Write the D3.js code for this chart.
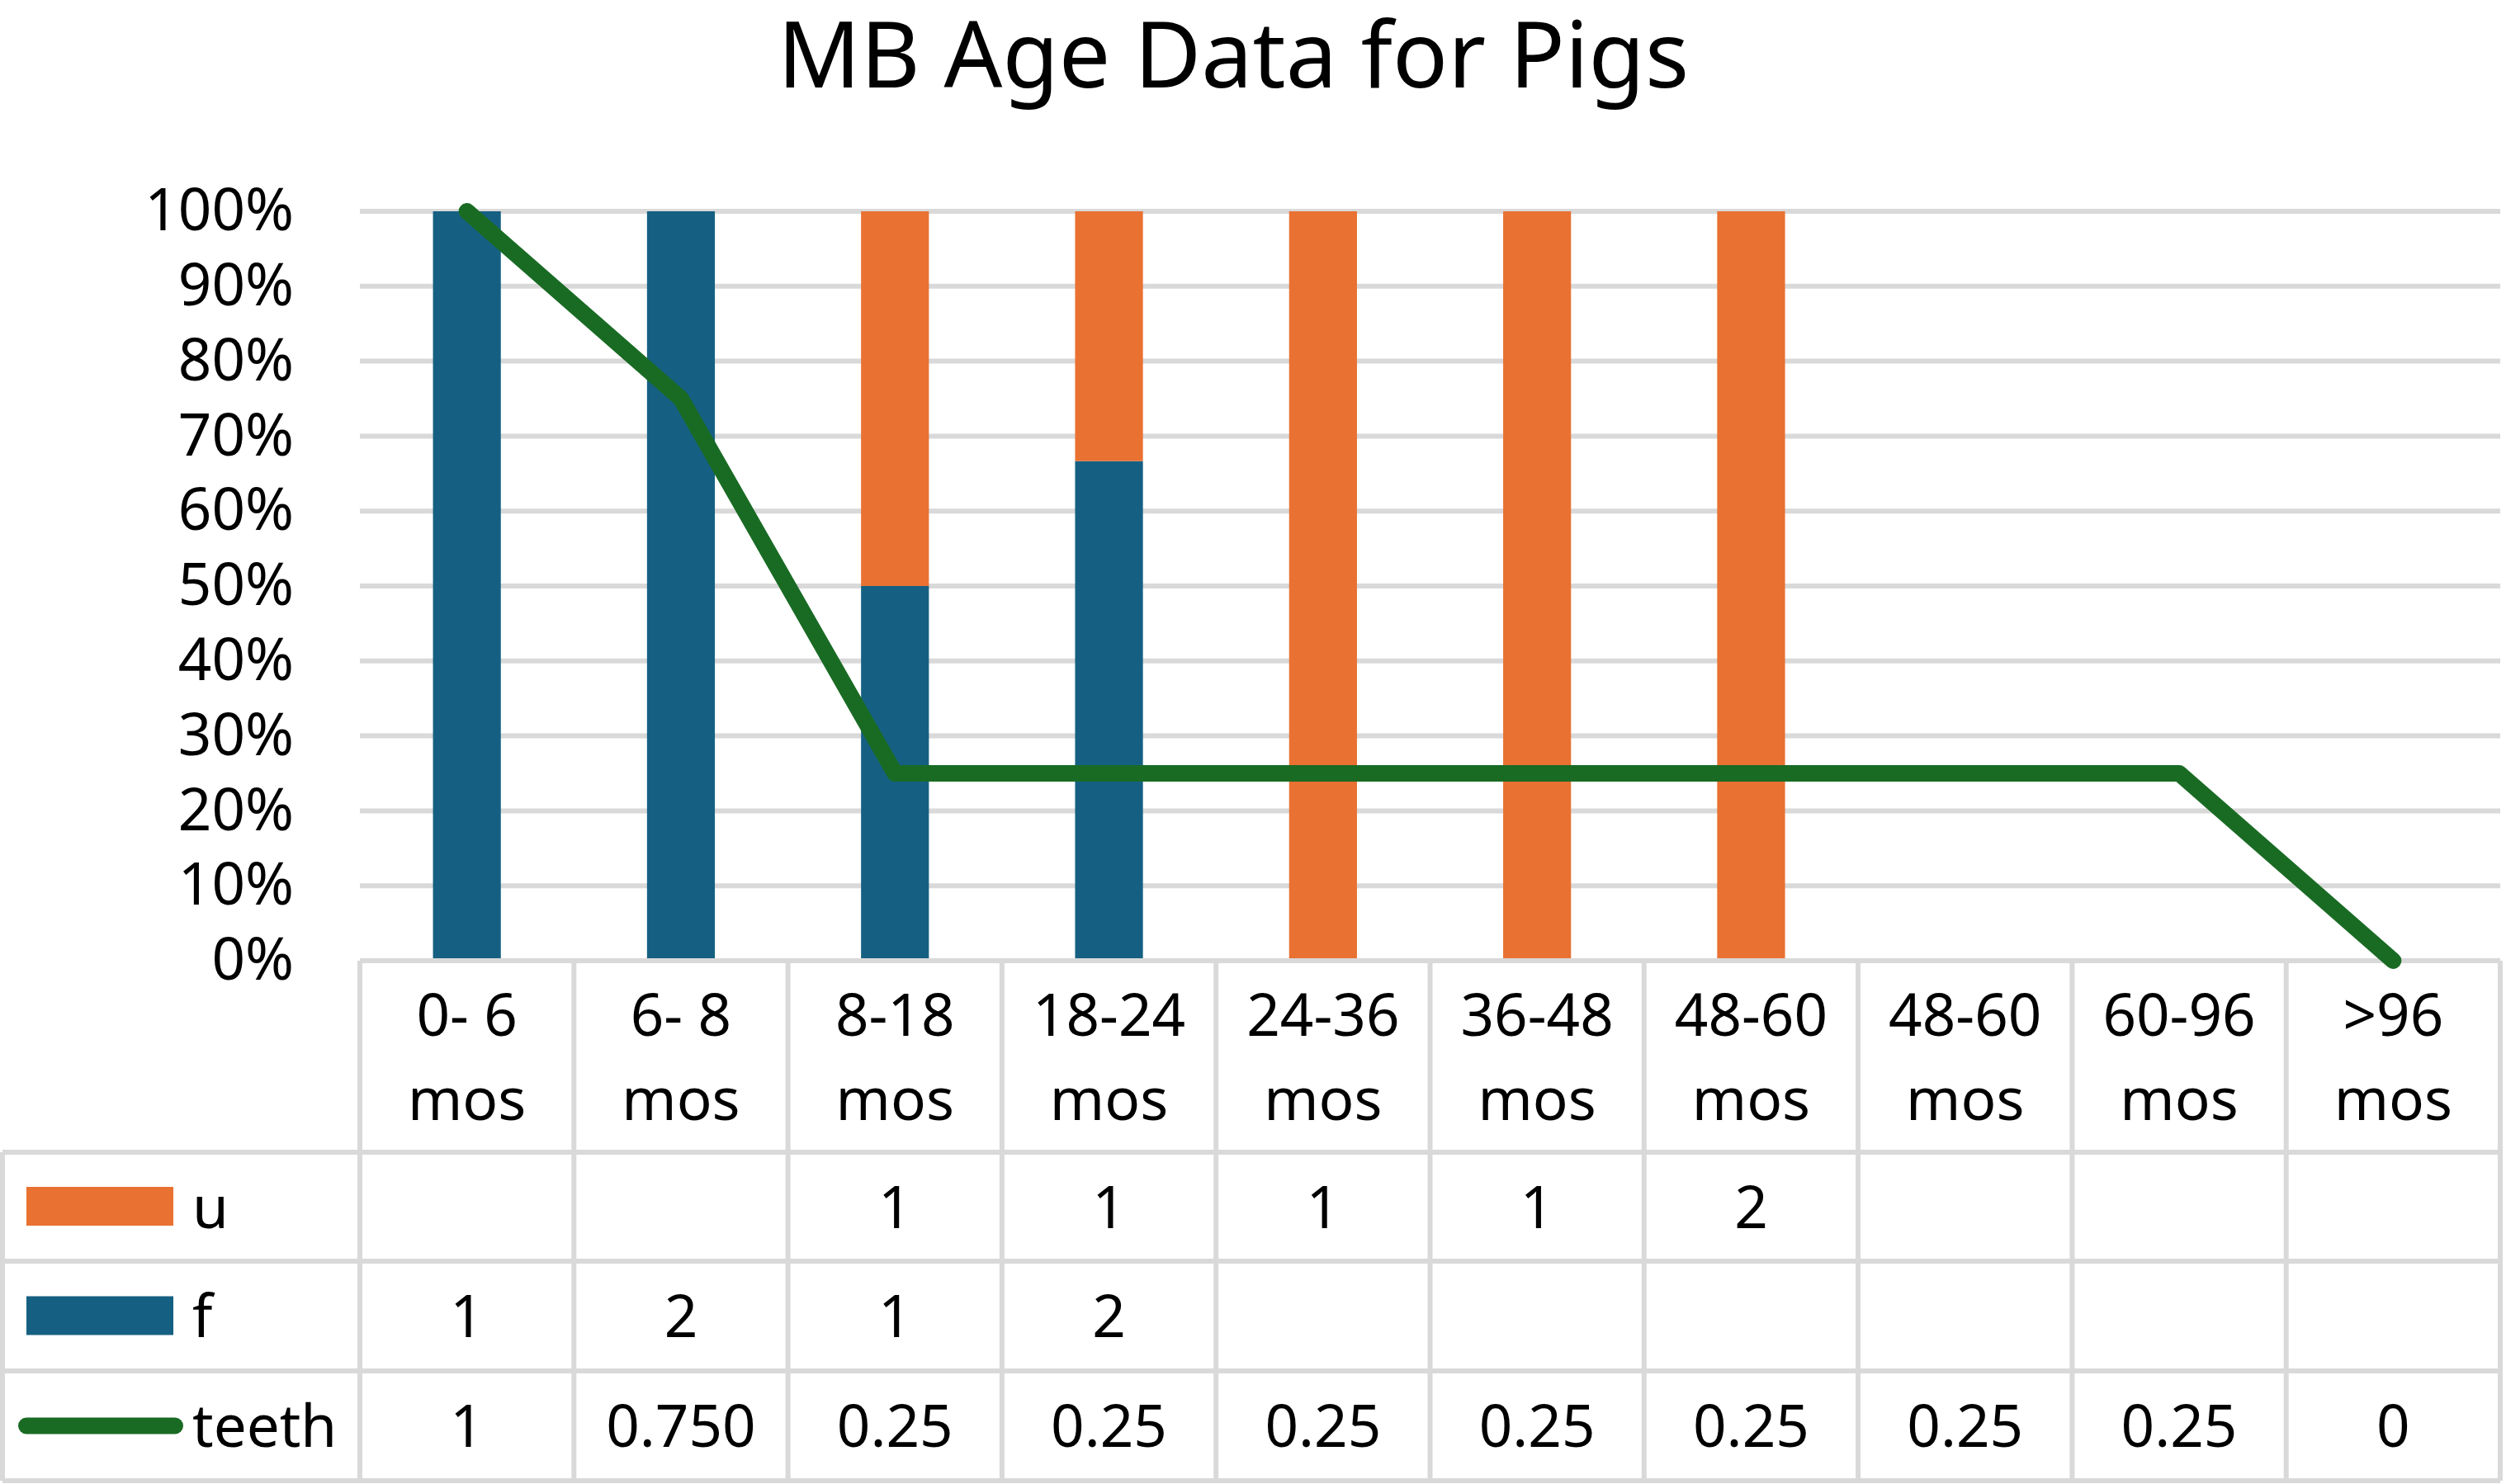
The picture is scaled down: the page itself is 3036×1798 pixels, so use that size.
<!DOCTYPE html>
<html>
<head>
<meta charset="utf-8">
<script src="https://cdn.jsdelivr.net/npm/d3@7"></script>
<style>
  body { margin: 0; background: #fff; }
  text { font-family: "Noto Sans", "Open Sans", sans-serif; fill: #000; }
</style>
</head>
<body>
<script>
// categories (age groups) - "48-60 mos" really is in there twice
var categories = ["0- 6 mos", "6- 8 mos", "8-18 mos", "18-24 mos", "24-36 mos",
                  "36-48 mos", "48-60 mos", "48-60 mos", "60-96 mos", ">96 mos"];
var uCounts = [null, null, 1, 1, 1, 1, 2, null, null, null];
var fCounts = [1, 2, 1, 2, null, null, null, null, null, null];
var teeth = [1, 0.75, 0.25, 0.25, 0.25, 0.25, 0.25, 0.25, 0.25, 0];
var teethText = ["1", "0.750", "0.25", "0.25", "0.25", "0.25", "0.25", "0.25", "0.25", "0"];
var yTicks = [0, 0.1, 0.2, 0.3, 0.4, 0.5, 0.6, 0.7, 0.8, 0.9, 1];

var width = 3036;
var height = 1798;
var colU = "#E97132", colF = "#156082", colTeeth = "#196B24", gridCol = "#d9d9d9";

var plot = {left: 436, right: 3029, top: 256, bottom: 1164};
var rowsY = [1164, 1396, 1528, 1661, 1794];   // table row borders
var fs = 71;

var svg = d3.select("body").append("svg")
    .attr("width", width)
    .attr("height", height);

var idx = d3.range(categories.length);
var xScale = d3.scaleBand()
    .domain(idx)
    .range([plot.left, plot.right])
    .padding(0);
var yScale = d3.scaleLinear()
    .domain([0, 1])
    .range([plot.bottom, plot.top]);

var barWidth = xScale.bandwidth() * 0.317;
function cx(i) { return xScale(i) + xScale.bandwidth() / 2; }

// title
svg.append("text")
    .text("MB Age Data for Pigs")
    .attr("x", 1494)
    .attr("y", 106)
    .attr("text-anchor", "middle")
    .style("font-size", "111px");

// gridlines
svg.append("g")
    .selectAll("line")
    .data(yTicks.filter(function(d){ return d > 0; }))
    .enter()
    .append("line")
    .attr("x1", plot.left)
    .attr("x2", plot.right)
    .attr("y1", function(d){ return yScale(d); })
    .attr("y2", function(d){ return yScale(d); })
    .attr("stroke", gridCol)
    .attr("stroke-width", 6);

// y axis labels
var yAxis = svg.append("g")
    .attr("transform", "translate(" + plot.left + ",0)")
    .call(d3.axisLeft(yScale).tickValues(yTicks).tickFormat(d3.format(".0%"))
        .tickSize(0).tickPadding(80));
yAxis.select(".domain").remove();
yAxis.selectAll("text")
    .style("font-size", fs + "px")
    .style("font-family", "'Noto Sans', sans-serif")
    .attr("fill", "#000");

// stacked 100% bars
var stackData = idx.map(function(i){
    var f = fCounts[i] || 0, u = uCounts[i] || 0, t = f + u;
    return {i: i, f: t ? f / t : 0, u: t ? u / t : 0};
});
var series = d3.stack().keys(["f", "u"])(stackData);
var colors = {f: colF, u: colU};

svg.append("g")
    .selectAll("g")
    .data(series)
    .enter()
    .append("g")
    .attr("fill", function(s){ return colors[s.key]; })
    .selectAll("rect")
    .data(function(s){ return s.filter(function(d){ return d[1] > d[0]; }); })
    .enter()
    .append("rect")
    .attr("x", function(d){ return cx(d.data.i) - barWidth / 2; })
    .attr("y", function(d){ return yScale(d[1]); })
    .attr("width", barWidth)
    .attr("height", function(d){ return yScale(d[0]) - yScale(d[1]); });

// data table grid
var grid = svg.append("g")
    .attr("stroke", gridCol)
    .attr("stroke-width", 6);
rowsY.forEach(function(y, k){
    grid.append("line")
        .attr("x1", k === 0 ? plot.left : 3)
        .attr("x2", plot.right)
        .attr("y1", y).attr("y2", y);
});
d3.range(categories.length + 1).forEach(function(k){
    var x = k < categories.length ? xScale(k) : plot.right;
    grid.append("line")
        .attr("x1", x).attr("x2", x)
        .attr("y1", rowsY[0]).attr("y2", rowsY[4]);
});
grid.append("line")
    .attr("x1", 3).attr("x2", 3)
    .attr("y1", rowsY[1]).attr("y2", rowsY[4]);

// category labels (two lines)
var catG = svg.append("g")
    .selectAll("text")
    .data(idx)
    .enter()
    .append("text")
    .attr("text-anchor", "middle")
    .style("font-size", fs + "px");
catG.append("tspan")
    .attr("x", function(i){ return cx(i); })
    .attr("y", 1255)
    .text(function(i){ return categories[i].replace(" mos", ""); });
catG.append("tspan")
    .attr("x", function(i){ return cx(i); })
    .attr("y", 1357)
    .text("mos");

// table rows
var rows = [
    {name: "u", vals: uCounts.map(function(v){ return v == null ? "" : String(v); }), kind: "bar", color: colU},
    {name: "f", vals: fCounts.map(function(v){ return v == null ? "" : String(v); }), kind: "bar", color: colF},
    {name: "teeth", vals: teethText, kind: "line", color: colTeeth}
];
rows.forEach(function(r, k){
    var mid = (rowsY[k + 1] + rowsY[k + 2]) / 2;
    var base = mid + fs * 0.36;
    if (r.kind === "bar") {
        svg.append("rect")
            .attr("x", 32).attr("y", mid - 24)
            .attr("width", 178).attr("height", 47)
            .attr("fill", r.color);
    } else {
        svg.append("line")
            .attr("x1", 32).attr("x2", 212)
            .attr("y1", mid).attr("y2", mid)
            .attr("stroke", r.color)
            .attr("stroke-width", 20)
            .attr("stroke-linecap", "round");
    }
    svg.append("text")
        .text(r.name)
        .attr("x", 233)
        .attr("y", base)
        .style("font-size", fs + "px");
    svg.append("g")
        .selectAll("text")
        .data(r.vals)
        .enter()
        .append("text")
        .text(function(d){ return d; })
        .attr("x", function(d, i){ return cx(i); })
        .attr("y", base)
        .attr("text-anchor", "middle")
        .style("font-size", fs + "px");
});

// teeth line
var line = d3.line()
    .x(function(d, i){ return cx(i); })
    .y(function(d){ return yScale(d); });
svg.append("path")
    .datum(teeth)
    .attr("d", line)
    .attr("fill", "none")
    .attr("stroke", colTeeth)
    .attr("stroke-width", 20)
    .attr("stroke-linejoin", "round")
    .attr("stroke-linecap", "round");
</script>
</body>
</html>
